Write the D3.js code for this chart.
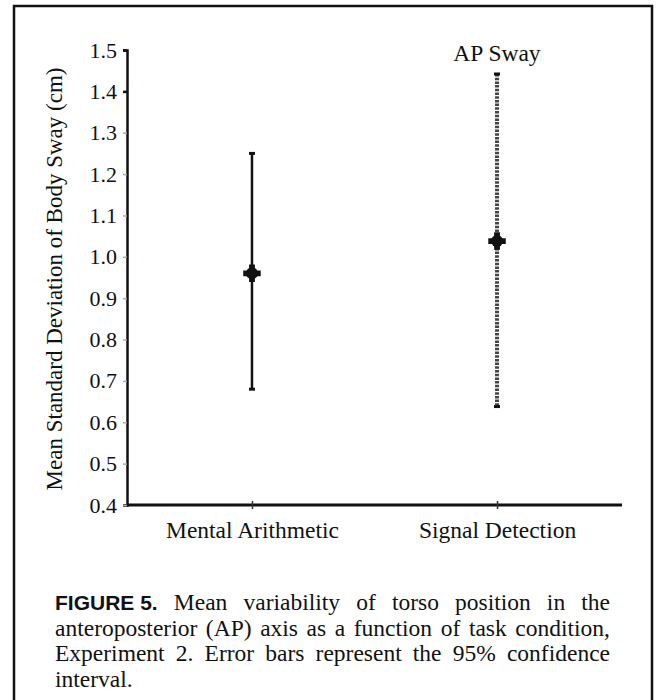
<!DOCTYPE html>
<html lang="en">
<head>
<meta charset="utf-8">
<script src="https://cdnjs.cloudflare.com/ajax/libs/d3/7.8.5/d3.min.js"></script>
<style>
  body { margin: 0; background: #fff; }
  svg { display: block; }
</style>
</head>
<body>
<svg id="chart"></svg>
<script>
// data
var conditions = ["Mental Arithmetic", "Signal Detection"];
var means = [0.96, 1.038];
var ciLow = [0.68, 0.638];
var ciHigh = [1.25, 1.442];
var yTicks = [0.4, 0.5, 0.6, 0.7, 0.8, 0.9, 1.0, 1.1, 1.2, 1.3, 1.4, 1.5];
var captionBold = "FIGURE 5.";
var captionLines = [
  "Mean variability of torso position in the",
  "anteroposterior (AP) axis as a function of task condition,",
  "Experiment 2. Error bars represent the 95% confidence",
  "interval."
];

var W = 658, H = 700;
var svg = d3.select("#chart").attr("width", W).attr("height", H);
var serif = "'Liberation Serif', 'Times New Roman', serif";
var sans = "'Liberation Sans', Arial, sans-serif";

// outer frame
svg.append("path")
  .attr("d", "M14,700 V6 H652 V700")
  .attr("fill", "none").attr("stroke", "#111").attr("stroke-width", 2.5);

var y = d3.scaleLinear().domain([0.4, 1.5]).range([505, 50]);
var x = d3.scalePoint().domain(conditions).range([127, 622]).padding(0.51);

// y axis
var yAxis = svg.append("g").attr("transform", "translate(127,0)")
  .call(d3.axisLeft(y).tickValues(yTicks).tickFormat(d3.format(".1f")).tickSize(4).tickPadding(6));
yAxis.attr("font-family", null).attr("font-size", null);
yAxis.select(".domain").attr("stroke", "#111").attr("stroke-width", 2.5);
yAxis.selectAll(".tick line").attr("stroke", function(d) { return d >= 1.4 ? "#111" : "#aaa"; })
  .attr("stroke-width", function(d) { return d >= 1.4 ? 2.5 : 1.5; });
yAxis.selectAll(".tick text")
  .style("font-family", serif).style("font-size", "22px").attr("fill", "#111");

// x axis
var xAxis = svg.append("g").attr("transform", "translate(0,505)")
  .call(d3.axisBottom(x).tickSize(4).tickSizeOuter(0).tickPadding(12));
xAxis.attr("font-family", null).attr("font-size", null);
xAxis.select(".domain").attr("stroke", "#111").attr("stroke-width", 3)
  .attr("d", "M127,0H622");
xAxis.selectAll(".tick line").attr("y1", -4).attr("stroke", "#333").attr("stroke-width", 1.5);
xAxis.selectAll(".tick text")
  .style("font-family", serif).style("font-size", "23.5px").attr("fill", "#111");

// y axis label
svg.append("text")
  .attr("transform", "translate(62,279) rotate(-90)")
  .attr("text-anchor", "middle")
  .style("font-family", serif).style("font-size", "23px").attr("fill", "#111")
  .text("Mean Standard Deviation of Body Sway (cm)");

// error bars
var bars = svg.append("g").selectAll("g").data(conditions).enter().append("g");
bars.append("line")
  .attr("x1", function(d) { return x(d); }).attr("x2", function(d) { return x(d); })
  .attr("y1", function(d, i) { return y(ciHigh[i]); })
  .attr("y2", function(d, i) { return y(ciLow[i]); })
  .attr("stroke", function(d, i) { return i === 0 ? "#111" : "#444"; })
  .attr("stroke-width", function(d, i) { return i === 0 ? 2.5 : 4; })
  .attr("stroke-dasharray", function(d, i) { return i === 0 ? null : "2.5,1.2"; });
bars.each(function(d, i) {
  var g = d3.select(this);
  [ciHigh[i], ciLow[i]].forEach(function(v) {
    g.append("line")
      .attr("x1", x(d) - 3).attr("x2", x(d) + 3)
      .attr("y1", y(v)).attr("y2", y(v))
      .attr("stroke", "#111").attr("stroke-width", 3);
  });
});
bars.append("path")
  .attr("transform", function(d, i) { return "translate(" + x(d) + "," + y(means[i]) + ")"; })
  .attr("d", d3.symbol().type(d3.symbolCross).size(170))
  .attr("fill", "#111");
bars.append("circle")
  .attr("cx", function(d) { return x(d); })
  .attr("cy", function(d, i) { return y(means[i]); })
  .attr("r", 6).attr("fill", "#111");

// panel title
svg.append("text")
  .attr("x", 497).attr("y", 61)
  .attr("text-anchor", "middle")
  .style("font-family", serif).style("font-size", "23.5px").attr("fill", "#111")
  .text("AP Sway");

// caption, justified between 55 and 610
var capLeft = 55, capRight = 610, lineH = 25.5, firstBase = 610;
var cap = svg.append("g");
function measure(t, bold) {
  var el = cap.append("text")
    .style("font-family", bold ? sans : serif)
    .style("font-weight", bold ? "bold" : "normal")
    .style("font-size", bold ? "21px" : "23.5px")
    .text(t);
  var len = el.node().getComputedTextLength();
  el.remove();
  return len;
}
captionLines.forEach(function(line, li) {
  var words = line.split(" ").map(function(w) { return {t: w, bold: false}; });
  if (li === 0) words = [{t: captionBold, bold: true}].concat(words);
  words.forEach(function(w) { w.w = measure(w.t, w.bold); });
  var total = d3.sum(words, function(w) { return w.w; });
  var gap = li < captionLines.length - 1 ? (capRight - capLeft - total) / (words.length - 1) : 5;
  var xx = capLeft;
  words.forEach(function(w) {
    cap.append("text")
      .attr("x", xx).attr("y", firstBase + li * lineH)
      .style("font-family", w.bold ? sans : serif)
      .style("font-weight", w.bold ? "bold" : "normal")
      .style("font-size", w.bold ? "21px" : "23.5px")
      .attr("fill", "#111")
      .text(w.t);
    xx += w.w + gap;
  });
});
</script>
</body>
</html>
